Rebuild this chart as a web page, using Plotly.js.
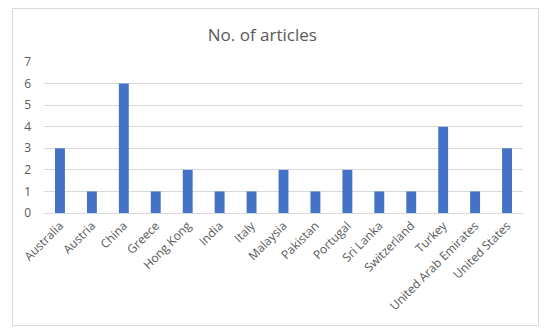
<!DOCTYPE html>
<html>
<head>
<meta charset="utf-8">
<script src="https://cdn.plot.ly/plotly-3.0.1.min.js"></script>
<style>
  body { margin: 0; background: #fff; }
  #wrap { position: relative; width: 550px; height: 336px; }
  #chart { width: 550px; height: 336px; }
  #frame { position: absolute; left: 12px; top: 8px; width: 525px; height: 316px; border: 1px solid #d9d9d9; pointer-events: none; }
</style>
</head>
<body>
<div id="wrap">
  <div id="chart"></div>
  <div id="frame"></div>
</div>
<script>
const countries = ['Australia', 'Austria', 'China', 'Greece', 'Hong Kong', 'India', 'Italy', 'Malaysia',
  'Pakistan', 'Portugal', 'Sri Lanka', 'Switzerland', 'Turkey', 'United Arab Emirates', 'United States'];
const articles = [3, 1, 6, 1, 2, 1, 1, 2, 1, 2, 1, 1, 4, 1, 3];

const trace = {
  x: countries,
  y: articles,
  type: 'bar',
  marker: { color: '#4472C4' },
  hoverinfo: 'none'
};

const layout = {
  width: 550,
  height: 336,
  margin: { t: 62, r: 27, b: 123, l: 44 },
  paper_bgcolor: 'white',
  plot_bgcolor: 'white',
  font: { family: 'Open Sans, sans-serif', color: '#595959', size: 12 },
  title: { text: 'No. of articles', font: { size: 17, color: '#595959' }, x: 0.477, xanchor: 'center', y: 0.895, yanchor: 'middle' },
  bargap: 0.69,
  showlegend: false,
  xaxis: {
    tickangle: -45,
    showline: true,
    linecolor: '#d9d9d9',
    ticks: '',
    tickfont: { size: 12 }
  },
  yaxis: {
    range: [0, 7],
    dtick: 1,
    gridcolor: '#d9d9d9',
    zeroline: false,
    ticks: '',
    ticklabelstandoff: 12,
    tickfont: { size: 12 }
  }
};

Plotly.newPlot('chart', [trace], layout, { staticPlot: true });
</script>
</body>
</html>
